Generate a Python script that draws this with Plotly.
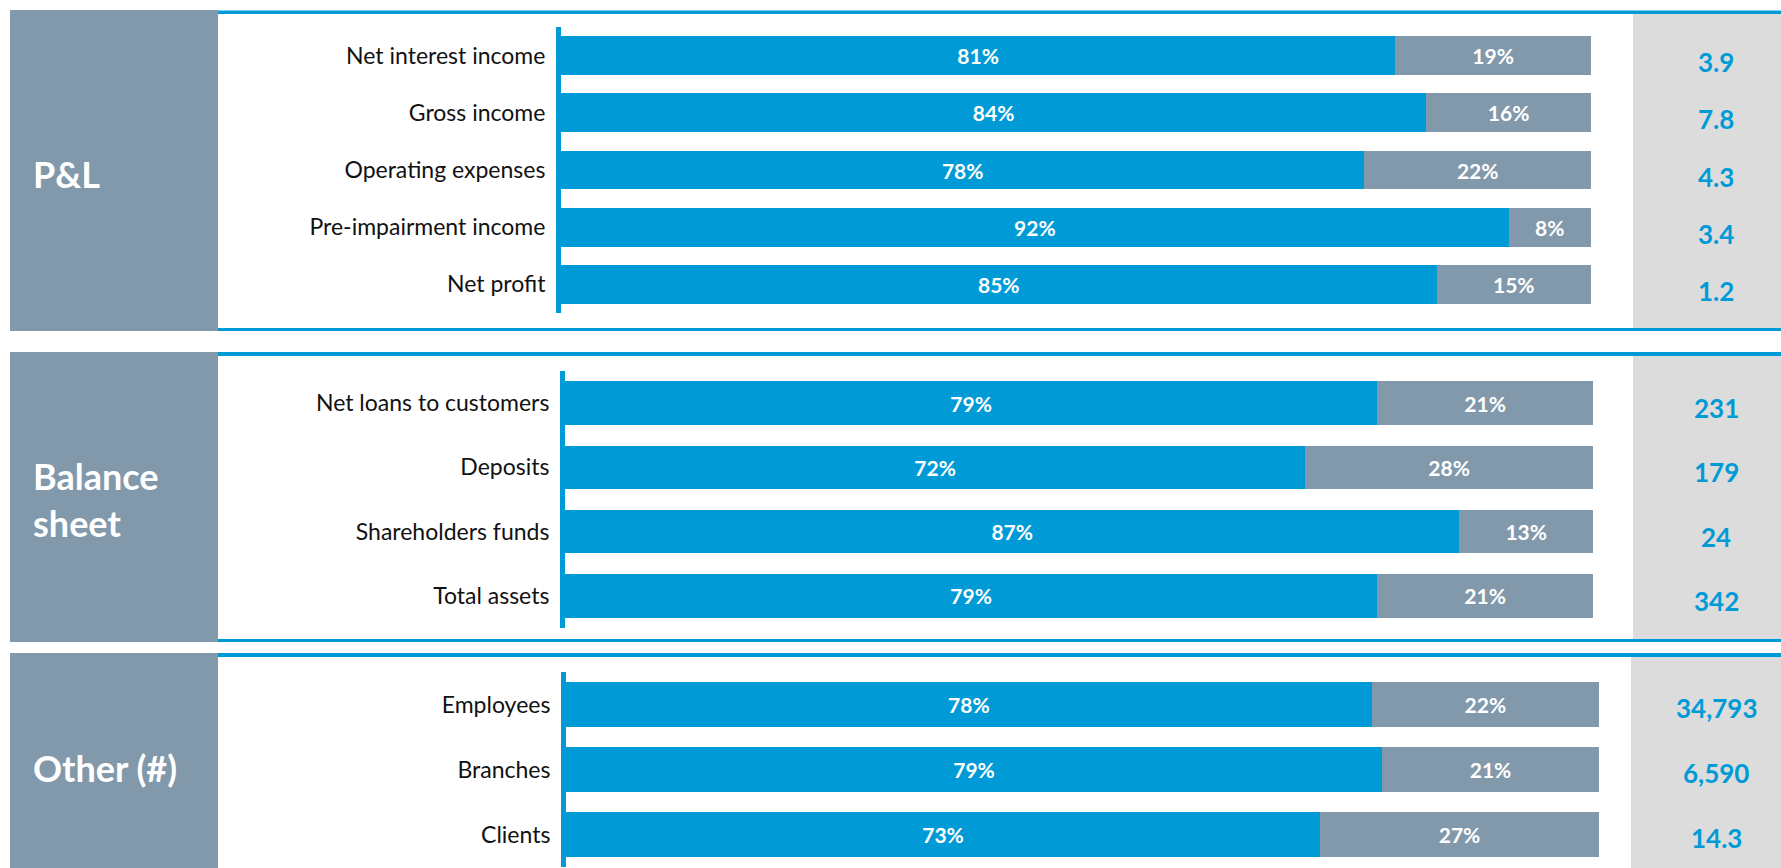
import plotly.graph_objects as go

W, H = 1781, 868

# ---------------- data ----------------
pl_categories = ["Net interest income", "Gross income", "Operating expenses",
                 "Pre-impairment income", "Net profit"]
pl_share_a = [81, 84, 78, 92, 85]
pl_share_b = [19, 16, 22, 8, 15]
pl_totals = ["3.9", "7.8", "4.3", "3.4", "1.2"]

bs_categories = ["Net loans to customers", "Deposits", "Shareholders funds", "Total assets"]
bs_share_a = [79, 72, 87, 79]
bs_share_b = [21, 28, 13, 21]
bs_totals = ["231", "179", "24", "342"]

ot_categories = ["Employees", "Branches", "Clients"]
ot_share_a = [78, 79, 73]
ot_share_b = [22, 21, 27]
ot_totals = ["34,793", "6,590", "14.3"]

section_titles = ["P&L", "Balance<br>sheet", "Other (#)"]

# ---------------- style ----------------
BLUE = "#009BD7"
GREY = "#8299AB"
LIGHT = "#DCDCDC"
FONT = "Lato"


def fx(px):
    return px / W


def fy(px):
    return 1 - px / H


# pixel layout of each panel
panels = [
    dict(cats=pl_categories, a=pl_share_a, b=pl_share_b, tot=pl_totals,
         title=section_titles[0], bar_l=561, bar_r=1591, ax_t=27, ax_b=313,
         box_t=10, box_b=331, line_t=(10.5, 14), line_b=(328, 331),
         col_l=1633, col_t=14, col_b=328, title_y=174, tot_shift=-6.5),
    dict(cats=bs_categories, a=bs_share_a, b=bs_share_b, tot=bs_totals,
         title=section_titles[1], bar_l=565, bar_r=1593, ax_t=371, ax_b=628,
         box_t=352, box_b=642, line_t=(352, 356), line_b=(639, 642),
         col_l=1633, col_t=356, col_b=639, title_y=499, tot_shift=-5),
    dict(cats=ot_categories, a=ot_share_a, b=ot_share_b, tot=ot_totals,
         title=section_titles[2], bar_l=566, bar_r=1599, ax_t=672, ax_b=867,
         box_t=653, box_b=868, line_t=(653, 657), line_b=None,
         col_l=1631, col_t=657, col_b=868, title_y=768, tot_shift=-3),
]

fig = go.Figure()
shapes = []
annotations = []
layout_axes = {}

for i, p in enumerate(panels, start=1):
    xa = "x" if i == 1 else f"x{i}"
    ya = "y" if i == 1 else f"y{i}"
    for vals, col in ((p["a"], BLUE), (p["b"], GREY)):
        fig.add_trace(go.Bar(
            y=p["cats"], x=vals, orientation="h", xaxis=xa, yaxis=ya,
            marker=dict(color=col, line=dict(width=0)),
            texttemplate="%{x}%", textposition="inside", insidetextanchor="middle",
            textfont=dict(family=FONT, size=21, color="white", weight="bold"),
            constraintext="none", showlegend=False, hoverinfo="skip",
        ))
    n = len(p["cats"])
    layout_axes[f"xaxis{'' if i == 1 else i}"] = dict(
        domain=[fx(p["bar_l"]), fx(p["bar_r"])], range=[0, 100], visible=False,
        anchor=ya, fixedrange=True)
    layout_axes[f"yaxis{'' if i == 1 else i}"] = dict(
        domain=[fy(p["ax_b"]), fy(p["ax_t"])], type="category",
        categoryorder="array", categoryarray=p["cats"], range=[n - 0.5, -0.5],
        showline=True, linecolor=BLUE, linewidth=5, ticks="", showgrid=False,
        zeroline=False, anchor=xa, ticklabelstandoff=6,
        tickfont=dict(family=FONT, size=23, color="#111111"), fixedrange=True)

    # left section box
    shapes.append(dict(type="rect", xref="paper", yref="paper", layer="below",
                       x0=fx(10), x1=fx(218), y0=fy(p["box_b"]), y1=fy(p["box_t"]),
                       fillcolor=GREY, line=dict(width=0)))
    # right totals column
    shapes.append(dict(type="rect", xref="paper", yref="paper", layer="below",
                       x0=fx(p["col_l"]), x1=1, y0=fy(p["col_b"]), y1=fy(p["col_t"]),
                       fillcolor=LIGHT, line=dict(width=0)))
    # blue rules
    for ln in (p["line_t"], p["line_b"]):
        if ln is None:
            continue
        shapes.append(dict(type="rect", xref="paper", yref="paper", layer="below",
                           x0=fx(218), x1=1, y0=fy(ln[1]), y1=fy(ln[0]),
                           fillcolor=BLUE, line=dict(width=0)))
    # section title
    annotations.append(dict(xref="paper", yref="paper", x=fx(31), y=fy(p["title_y"]),
                            xanchor="left", yanchor="middle", align="left",
                            text=p["title"], showarrow=False,
                            font=dict(family=FONT, size=36, color="white", weight="bold")))
    # totals
    for c, t in zip(p["cats"], p["tot"]):
        annotations.append(dict(xref="paper", yref=ya, x=fx(1716), y=c,
                                xanchor="center", yanchor="middle", yshift=p["tot_shift"],
                                text=t, showarrow=False,
                                font=dict(family=FONT, size=26, color=BLUE, weight="bold")))

fig.update_layout(
    width=W, height=H, margin=dict(l=0, r=0, t=0, b=0),
    paper_bgcolor="white", plot_bgcolor="rgba(0,0,0,0)",
    barmode="stack", bargap=0.32,
    shapes=shapes, annotations=annotations,
    font=dict(family=FONT),
    **layout_axes,
)

fig.write_html("out.html", config={"displayModeBar": False})
